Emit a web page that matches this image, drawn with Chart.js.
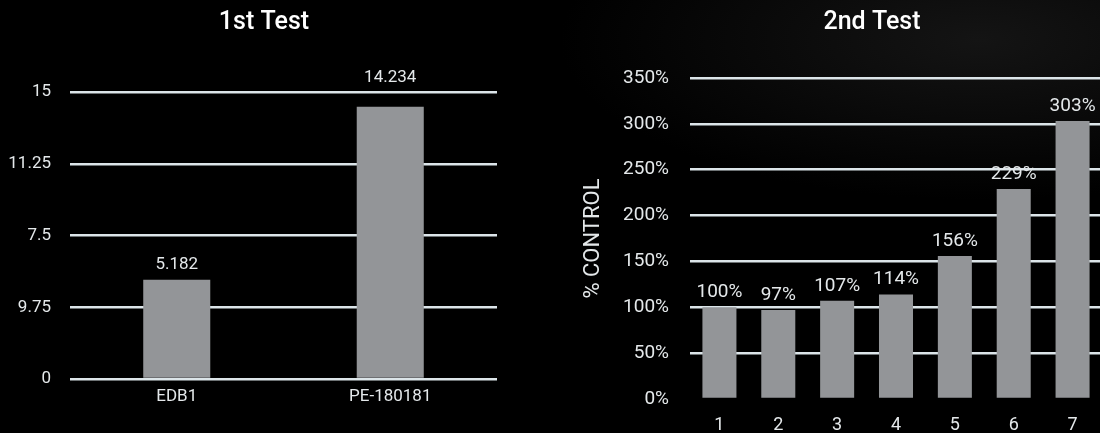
<!DOCTYPE html>
<html>
<head>
<meta charset="utf-8">
<script src="https://cdn.jsdelivr.net/npm/chart.js@4.4.1/dist/chart.umd.min.js"></script>
<style>
  html, body { margin: 0; padding: 0; }
  body {
    width: 1100px; height: 433px; overflow: hidden; position: relative;
    background: radial-gradient(ellipse 420px 160px at 980px 40px, #141414 0%, #000 100%);
  }
  canvas { position: absolute; top: 0; }
  #test1 { left: 0; }
  #test2 { left: 560px; }
</style>
</head>
<body>
<canvas id="test1" width="528" height="433"></canvas>
<canvas id="test2" width="624" height="433"></canvas>
<script>
// 1st test
const test1Categories = ["EDB1", "PE-180181"];
const test1Values = [5.182, 14.234];
const test1TickLabels = ["0", "9.75", "7.5", "11.25", "15"]; // as printed on the original

// 2nd test
const test2Categories = ["1", "2", "3", "4", "5", "6", "7"];
const test2Values = [100, 97, 107, 114, 156, 229, 303];
const test2TickLabels = ["0%", "50%", "100%", "150%", "200%", "250%", "300%", "350%"];

const barColor = "#939598";
const gridColor = "#dce5e9";
const textColor = "#e4e8ea";
const tickFont = "Roboto";

// simple value labels above each bar
const valueLabels = {
  id: "valueLabels",
  afterDatasetsDraw(chart, args, opts) {
    const c = chart.ctx;
    const top = chart.chartArea.top;
    const meta = chart.getDatasetMeta(0);
    c.save();
    c.fillStyle = textColor;
    c.font = opts.size + "px " + tickFont;
    c.textAlign = "center";
    c.textBaseline = "middle";
    meta.data.forEach((bar, i) => {
      let y = bar.y - 15;
      // keep the label clear of the top grid line
      if (y > top - 14 && y < top + 12) y = top - 14;
      c.fillText(opts.format(chart.data.datasets[0].data[i]), bar.x, y);
    });
    c.restore();
  }
};

function fixWidth(w) { return scale => { scale.width = w; }; }
function fixHeight(h) { return scale => { scale.height = h; }; }

// empty axis on the right: reserves space so the full-width title sits where the original has it
function spacer(w) {
  return {
    position: "right",
    display: true,
    afterFit: fixWidth(w),
    grid: { display: false },
    border: { display: false },
    ticks: { display: false }
  };
}

const titleFont = { family: "Roboto", size: 25, weight: "500", lineHeight: 1.2 };

new Chart(document.getElementById("test1"), {
  type: "bar",
  data: {
    labels: test1Categories,
    datasets: [{
      data: test1Values,
      backgroundColor: barColor,
      categoryPercentage: 1,
      barPercentage: 0.314
    }]
  },
  options: {
    responsive: false,
    animation: false,
    devicePixelRatio: 1,
    plugins: {
      legend: { display: false },
      tooltip: { enabled: false },
      title: {
        display: true,
        text: "1st Test",
        color: "#ffffff",
        font: titleFont,
        padding: { top: 8, bottom: 54 }
      },
      valueLabels: { size: 17, format: v => v.toFixed(3) }
    },
    scales: {
      x: {
        afterFit: fixHeight(54),
        grid: { display: false },
        border: { display: false },
        ticks: { color: textColor, padding: 0, font: { family: tickFont, size: 17 } }
      },
      y: {
        min: 0,
        max: 15,
        afterFit: fixWidth(70),
        afterBuildTicks: scale => {
          scale.ticks = test1TickLabels.map((_, i) => ({ value: i * 3.75 }));
        },
        grid: { color: gridColor, lineWidth: 2.5, drawTicks: false },
        border: { display: false },
        ticks: {
          color: textColor,
          padding: 19,
          font: { family: tickFont, size: 17 },
          callback: (v, i) => test1TickLabels[i]
        }
      },
      pad: spacer(31)
    }
  },
  plugins: [valueLabels]
});

new Chart(document.getElementById("test2"), {
  type: "bar",
  data: {
    labels: test2Categories,
    datasets: [{
      data: test2Values,
      backgroundColor: barColor,
      categoryPercentage: 1,
      barPercentage: 0.578
    }]
  },
  options: {
    responsive: false,
    animation: false,
    devicePixelRatio: 1,
    plugins: {
      legend: { display: false },
      tooltip: { enabled: false },
      title: {
        display: true,
        text: "2nd Test",
        color: "#ffffff",
        font: titleFont,
        padding: { top: 8, bottom: 40 }
      },
      valueLabels: { size: 19, format: v => v + "%" }
    },
    scales: {
      x: {
        afterFit: fixHeight(34),
        grid: { display: false },
        border: { display: false },
        ticks: { color: textColor, padding: 8, font: { family: tickFont, size: 18 } }
      },
      y: {
        min: 0,
        max: 350,
        afterFit: fixWidth(130),
        afterBuildTicks: scale => {
          scale.ticks = test2TickLabels.map((_, i) => ({ value: i * 50 }));
        },
        title: {
          display: true,
          text: "% CONTROL",
          color: textColor,
          font: { family: tickFont, size: 22, lineHeight: 1.2 },
          padding: { top: 20, bottom: 0 }
        },
        grid: {
          color: ctx => (ctx.tick && ctx.tick.value === 0 ? "rgba(0,0,0,0)" : gridColor),
          lineWidth: 2.5,
          drawTicks: false
        },
        border: { display: false },
        ticks: {
          color: textColor,
          padding: 21,
          font: { family: tickFont, size: 19 },
          callback: (v, i) => test2TickLabels[i]
        }
      },
      pad: spacer(82)
    }
  },
  plugins: [valueLabels]
});
</script>
</body>
</html>
